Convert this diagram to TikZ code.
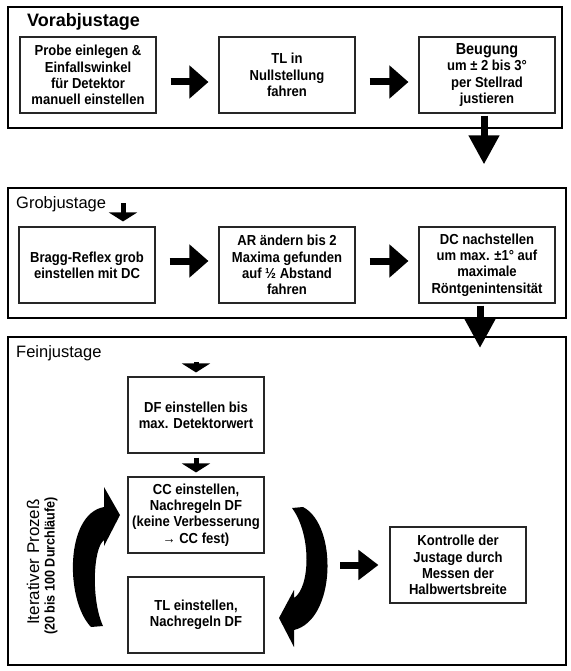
\documentclass[tikz,border=0pt]{standalone}
\usepackage{fontspec}
\setmainfont{Liberation Sans}
\newfontfamily\boxfont[FakeStretch=0.9]{Liberation Sans}
\usetikzlibrary{arrows.meta}

\begin{document}
\begin{tikzpicture}[x=1pt,y=-1pt,
    frame/.style={draw=black, line width=1.1pt},
    stepbox/.style={draw=black!85, line width=1.1pt, minimum width=136pt, minimum height=76pt,
        inner sep=0pt, align=center, font=\boxfont\bfseries\fontsize{14.5}{16.3}\selectfont},
    phase/.style={anchor=base west, inner sep=0pt, font=\fontsize{16.5}{18}\selectfont},
    bigarrow/.style={line width=7pt, -{Triangle[length=19pt,width=32pt]}, shorten <=14pt, shorten >=10pt},
    downarrow/.style={line width=7pt, -{Triangle[length=29pt,width=29pt]}},
    smallarrow/.style={line width=5pt, -{Triangle[length=9pt,width=28pt]}}]

    \useasboundingbox (0,0) rectangle (570,671);

    % frames of the three phases
    \draw[frame] (8,7) rectangle (562,128);
    \draw[frame] (8,188) rectangle (566,318);
    \draw[frame] (8,337) rectangle (566,665);

    \node[phase, font=\bfseries\fontsize{18}{20}\selectfont] (vorab) at (27,27) {Vorabjustage};
    \node[phase] (grob) at (16,208) {Grobjustage};
    \node[phase] (fein) at (16,357) {Feinjustage};

    % Vorabjustage
    \node[stepbox] (B1) at (88,75) {Probe einlegen \&\\Einfallswinkel\\für Detektor\\manuell einstellen};
    \node[stepbox] (B2) at (287,75) {TL in\\Nullstellung\\fahren};
    \node[stepbox] (B3) at (487,75) {{\fontsize{16}{16.3}\selectfont Beugung}\\um ± 2 bis 3°\\per Stellrad\\justieren};

    % Grobjustage
    \node[stepbox] (G1) at (87,265) {Bragg-Reflex grob\\einstellen mit DC};
    \node[stepbox] (G2) at (287,265) {AR ändern bis 2\\Maxima gefunden\\auf ½ Abstand\\fahren};
    \node[stepbox] (G3) at (487,265) {DC nachstellen\\um max. ±1° auf\\maximale\\Röntgenintensität};

    % Feinjustage
    \node[stepbox] (F1) at (196,415) {DF einstellen bis\\max. Detektorwert};
    \node[stepbox] (F2) at (196,515) {CC einstellen,\\Nachregeln DF\\(keine Verbesserung\\→ CC fest)};
    \node[stepbox] (F3) at (196,615) {TL einstellen,\\Nachregeln DF};
    \node[stepbox] (K) at (458,565) {Kontrolle der\\Justage durch\\Messen der\\Halbwertsbreite};

    \node[rotate=90, inner sep=0pt, font=\fontsize{17}{19}\selectfont] (iter) at (33,562) {Iterativer Prozeß};
    \node[rotate=90, inner sep=0pt, font=\boxfont\bfseries\fontsize{14}{15}\selectfont] (runs) at (51,566) {(20 bis 100 Durchläufe)};

    \coordinate (grobin) at (123,203);
    \coordinate (feinin) at (196,362);
    \coordinate (feintop) at (480,348);
    \coordinate (loopout) at (340,565);

    \foreach \a/\b in {B1/B2,B2/B3}
        \draw[bigarrow] ([yshift=-7pt]\a.east) -- ([yshift=-7pt]\b.west);
    \foreach \a/\b in {G1/G2,G2/G3}
        \draw[bigarrow] ([yshift=4pt]\a.east) -- ([yshift=4pt]\b.west);

    \draw[downarrow, shorten <=2pt, shorten >=62pt] ([xshift=-3pt]B3.south) -- ([xshift=-3pt]G3.north);
    \draw[downarrow, shorten <=2pt] ([xshift=-7pt]G3.south) -- (feintop);

    \draw[smallarrow, shorten >=5pt] (grobin) -- (grobin |- G1.north);
    \draw[smallarrow, shorten >=4pt] (feinin) -- (F1.north);
    \draw[smallarrow, shorten <=4pt, shorten >=4pt] (F1.south) -- (F2.north);
    \draw[bigarrow, line width=7pt, -{Triangle[length=20pt,width=29pt]}, shorten <=0pt, shorten >=11pt] (loopout) -- (K.west);

    % curved arrows of the loop
    \fill (91,627) .. controls (65,600) and (65,514) .. (104,507) -- (104,487) -- (120,515) -- (104,546)
        -- (104,540) .. controls (93,548) and (91,600) .. (103,626) -- cycle;
    \fill (292,508) -- (303,507) .. controls (338,525) and (336,620) .. (294,630) -- (294,647) -- (279,618)
        -- (294,590) -- (294,598) .. controls (310,588) and (312,535) .. (292,508) -- cycle;

\end{tikzpicture}
\end{document}
